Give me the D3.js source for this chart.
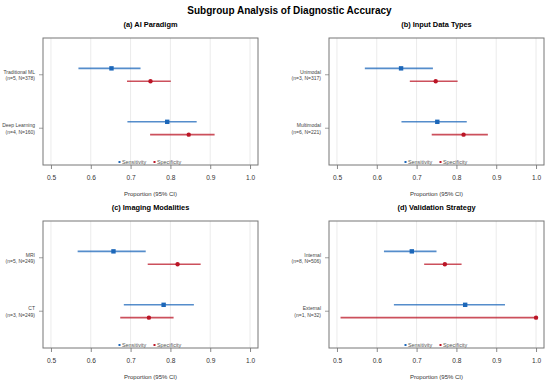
<!DOCTYPE html>
<html>
<head>
<meta charset="utf-8">
<script src="https://cdn.jsdelivr.net/npm/d3@7"></script>
<style>
body { margin: 0; background: #fff; }
svg { font-family: "Liberation Sans", Arial, sans-serif; }
</style>
</head>
<body>
<svg width="550" height="385"></svg>
<script>
// panel titles and subgroup labels
var panelTitles = ["(a) AI Paradigm", "(b) Input Data Types", "(c) Imaging Modalities", "(d) Validation Strategy"];
var groupNames = [
	["Traditional ML", "Deep Learning"],
	["Unimodal", "Multimodal"],
	["MRI", "CT"],
	["Internal", "External"]
];
var groupCounts = [
	["(n=5, N=378)", "(n=4, N=160)"],
	["(n=3, N=317)", "(n=6, N=221)"],
	["(n=5, N=249)", "(n=3, N=249)"],
	["(n=8, N=506)", "(n=1, N=32)"]
];
// [estimate, lower, upper]
var sensitivity = [
	[[0.652, 0.569, 0.725], [0.792, 0.692, 0.866]],
	[[0.661, 0.570, 0.741], [0.752, 0.662, 0.826]],
	[[0.657, 0.567, 0.738], [0.783, 0.683, 0.859]],
	[[0.688, 0.618, 0.750], [0.822, 0.643, 0.922]]
];
var specificity = [
	[[0.750, 0.691, 0.801], [0.846, 0.749, 0.911]],
	[[0.748, 0.683, 0.803], [0.818, 0.738, 0.879]],
	[[0.818, 0.743, 0.876], [0.746, 0.674, 0.808]],
	[[0.771, 0.719, 0.813], [1.000, 0.509, 1.000]]
];
var xTicks = [0.5, 0.6, 0.7, 0.8, 0.9, 1.0];

var blue = "#1c67b9", red = "#bb1526";
var svg = d3.select("svg");

svg.append("text")
	.attr("x", 289.5).attr("y", 13.5)
	.attr("text-anchor", "middle")
	.attr("font-size", 10).attr("font-weight", "bold")
	.text("Subgroup Analysis of Diagnostic Accuracy");

var frames = [
	{ left: 43, top: 38 },
	{ left: 329, top: 38 },
	{ left: 43, top: 221 },
	{ left: 329, top: 221 }
];
var W = 215, H = 127;

panelTitles.forEach(function (title, p) {
	var f = frames[p];
	var g = svg.append("g").attr("transform", "translate(" + f.left + "," + f.top + ")");

	var x = d3.scaleLinear().domain([0.48, 1.02]).range([0, W]);
	var y = d3.scaleLinear().domain([0.312, 2.688]).range([H, 0]);

	g.append("text")
		.attr("x", W / 2).attr("y", -11)
		.attr("text-anchor", "middle")
		.attr("font-size", 7.4).attr("font-weight", "bold")
		.text(title);

	// grid
	g.selectAll("line.grid").data(xTicks).enter().append("line")
		.attr("x1", function (d) { return x(d); }).attr("x2", function (d) { return x(d); })
		.attr("y1", 0).attr("y2", H)
		.attr("stroke", "#e6e6e6").attr("stroke-width", 0.8);

	// x axis
	var xa = g.append("g").attr("transform", "translate(0," + H + ")")
		.call(d3.axisBottom(x).tickValues(xTicks).tickFormat(d3.format(".1f")).tickSize(4).tickPadding(6));
	xa.select(".domain").remove();
	xa.selectAll("line").attr("stroke", "#888");
	xa.selectAll("text").attr("font-size", 6.6).attr("fill", "#333").attr("font-family", "Liberation Sans, Arial, sans-serif");

	g.append("text")
		.attr("x", W / 2).attr("y", H + 31)
		.attr("text-anchor", "middle")
		.attr("font-size", 6).attr("fill", "#333")
		.text("Proportion (95% CI)");

	// y ticks and labels
	var rows = [2, 1];
	rows.forEach(function (yy, i) {
		g.append("line")
			.attr("x1", -4).attr("x2", 0)
			.attr("y1", y(yy)).attr("y2", y(yy))
			.attr("stroke", "#888").attr("stroke-width", 0.8);
		var t = g.append("text")
			.attr("x", -8).attr("y", y(yy))
			.attr("text-anchor", "end")
			.attr("font-size", 5).attr("fill", "#444");
		t.append("tspan").attr("x", -8).attr("dy", -1.2).text(groupNames[p][i]);
		t.append("tspan").attr("x", -8).attr("dy", 6.6).text(groupCounts[p][i]);

		var s = sensitivity[p][i], c = specificity[p][i];
		var ys = y(yy + 0.12), yc = y(yy - 0.12);
		g.append("line")
			.attr("x1", x(s[1])).attr("x2", x(s[2]))
			.attr("y1", ys).attr("y2", ys)
			.attr("stroke", blue).attr("stroke-width", 1.6).attr("stroke-opacity", 0.75);
		g.append("rect")
			.attr("x", x(s[0]) - 2.2).attr("y", ys - 2.2)
			.attr("width", 4.4).attr("height", 4.4)
			.attr("fill", blue);
		g.append("line")
			.attr("x1", x(c[1])).attr("x2", x(c[2]))
			.attr("y1", yc).attr("y2", yc)
			.attr("stroke", red).attr("stroke-width", 1.6).attr("stroke-opacity", 0.75);
		g.append("circle")
			.attr("cx", x(c[0])).attr("cy", yc).attr("r", 2.2)
			.attr("fill", red);
	});

	// legend
	var lg = g.append("g").attr("transform", "translate(" + (W / 2) + "," + (H - 3) + ")");
	lg.append("rect").attr("x", -32).attr("y", -1).attr("width", 2).attr("height", 2).attr("fill", blue);
	lg.append("text").attr("x", -28.5).attr("y", 2).attr("font-size", 5.4).attr("fill", "#555").text("Sensitivity");
	lg.append("rect").attr("x", 3).attr("y", -1).attr("width", 2).attr("height", 2).attr("fill", red);
	lg.append("text").attr("x", 6.5).attr("y", 2).attr("font-size", 5.4).attr("fill", "#555").text("Specificity");

	// frame
	g.append("rect")
		.attr("x", 0).attr("y", 0).attr("width", W).attr("height", H)
		.attr("fill", "none").attr("stroke", "#777").attr("stroke-width", 1);
});
</script>
</body>
</html>
